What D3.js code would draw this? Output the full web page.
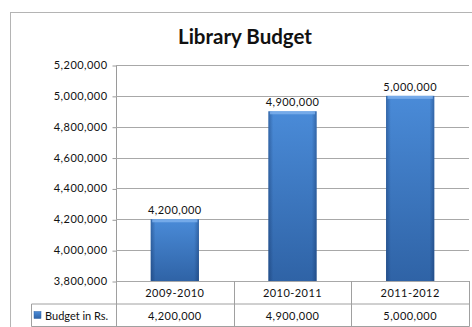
<!DOCTYPE html>
<html>
<head>
<meta charset="utf-8">
<script src="https://cdn.jsdelivr.net/npm/d3@7"></script>
<style>
  body { margin: 0; background: #fff; }
  svg text { font-family: Lato, "Open Sans", sans-serif; fill: #111; }
</style>
</head>
<body>
<div id="chart"></div>
<script>
// data
var categories = ["2009-2010", "2010-2011", "2011-2012"];
var values = [4200000, 4900000, 5000000];
var seriesName = "Budget in Rs.";
var yTicks = [3800000, 4000000, 4200000, 4400000, 4600000, 4800000, 5000000, 5200000];
var title = "Library Budget";

var width = 472,
    height = 327;
var plot = {left: 116, top: 65, right: 469, bottom: 281};
var rowH = 22.5;

var fmt = d3.format(",");

var svg = d3.select("#chart").append("svg")
    .attr("width", width)
    .attr("height", height);

// gradients for the bevelled bars
var defs = svg.append("defs");
var gv = defs.append("linearGradient").attr("id", "barV")
    .attr("x1", 0).attr("y1", 0).attr("x2", 0).attr("y2", 1);
gv.append("stop").attr("offset", "0%").attr("stop-color", "#4a8bd8");
gv.append("stop").attr("offset", "100%").attr("stop-color", "#2f63a6");
var gh = defs.append("linearGradient").attr("id", "barH")
    .attr("x1", 0).attr("y1", 0).attr("x2", 1).attr("y2", 0);
gh.append("stop").attr("offset", "0%").attr("stop-color", "#0b2450").attr("stop-opacity", 0.35);
gh.append("stop").attr("offset", "10%").attr("stop-color", "#0b2450").attr("stop-opacity", 0);
gh.append("stop").attr("offset", "90%").attr("stop-color", "#0b2450").attr("stop-opacity", 0);
gh.append("stop").attr("offset", "100%").attr("stop-color", "#0b2450").attr("stop-opacity", 0.35);

// outer frame
svg.append("rect")
    .attr("x", 10.5).attr("y", 12.5)
    .attr("width", 480).attr("height", 340)
    .attr("fill", "none")
    .attr("stroke", "#b4b4b4");

// title
svg.append("text")
    .attr("x", 245).attr("y", 44)
    .attr("text-anchor", "middle")
    .style("font-size", "20.5px")
    .style("font-weight", "bold")
    .text(title);

// scales
var x = d3.scaleBand()
    .domain(categories)
    .range([plot.left, plot.right])
    .paddingInner(0.59)
    .paddingOuter(0.295);
var col = d3.scaleBand()
    .domain(categories)
    .range([plot.left, plot.right]);
var y = d3.scaleLinear()
    .domain([yTicks[0], yTicks[yTicks.length - 1]])
    .range([plot.bottom, plot.top]);

// y axis with gridlines
var yAxis = d3.axisLeft(y)
    .tickValues(yTicks)
    .tickFormat(fmt)
    .tickSize(4)
    .tickPadding(5);
var ga = svg.append("g")
    .attr("transform", "translate(" + (plot.left + 0.5) + ",0)")
    .call(yAxis);
ga.select(".domain").attr("stroke", "#9a9a9a").attr("d", "M0," + plot.top + "V" + plot.bottom);
ga.selectAll(".tick line").attr("stroke", "#9a9a9a")
    .attr("transform", "translate(0,0.5)");
ga.selectAll(".tick text")
    .style("font-size", "11px")
    .style("letter-spacing", "0.45px")
    .attr("fill", "#111");

svg.append("g").selectAll("line")
    .data(yTicks)
  .enter().append("line")
    .attr("x1", plot.left)
    .attr("x2", plot.right)
    .attr("y1", function(d){ return Math.round(y(d)) + 0.5; })
    .attr("y2", function(d){ return Math.round(y(d)) + 0.5; })
    .attr("stroke", "#a8a8a8");

// bars
var bars = svg.append("g").selectAll("g")
    .data(values)
  .enter().append("g");
bars.append("rect")
    .attr("x", function(d, i){ return x(categories[i]); })
    .attr("y", function(d){ return y(d); })
    .attr("width", x.bandwidth())
    .attr("height", function(d){ return plot.bottom - y(d); })
    .attr("fill", "url(#barV)");
bars.append("rect")
    .attr("x", function(d, i){ return x(categories[i]); })
    .attr("y", function(d){ return y(d); })
    .attr("width", x.bandwidth())
    .attr("height", function(d){ return plot.bottom - y(d); })
    .attr("fill", "url(#barH)");
// light bevel on top
bars.append("rect")
    .attr("x", function(d, i){ return x(categories[i]) + 1.5; })
    .attr("y", function(d){ return y(d); })
    .attr("width", x.bandwidth() - 3)
    .attr("height", 3)
    .attr("fill", "#7fb2ee")
    .attr("opacity", 0.8);

// data labels
bars.append("text")
    .attr("x", function(d, i){ return x(categories[i]) + x.bandwidth() / 2; })
    .attr("y", function(d){ return y(d) - 5; })
    .attr("text-anchor", "middle")
    .style("font-size", "11px")
    .style("letter-spacing", "0.45px")
    .text(fmt);

// data table
var tbl = svg.append("g").attr("stroke", "#a0a0a0").attr("fill", "none");
var r1 = plot.bottom, r2 = plot.bottom + rowH, r3 = plot.bottom + 2 * rowH;
tbl.append("path")
    .attr("d", "M31.5," + (r2 + 0.5) + "H" + (plot.right + 0.5) +
               "M31.5," + (r3 + 0.5) + "H" + (plot.right + 0.5) +
               "M31.5," + (r2 + 0.5) + "V" + (r3 + 0.5) +
               "M" + (plot.left + 0.5) + "," + r1 + "V" + (r3 + 0.5) +
               "M" + (plot.right + 0.5) + "," + r1 + "V" + (r3 + 0.5));
tbl.selectAll("line.sep")
    .data(categories.slice(1))
  .enter().append("line")
    .attr("x1", function(d){ return Math.round(col(d)) + 0.5; })
    .attr("x2", function(d){ return Math.round(col(d)) + 0.5; })
    .attr("y1", r1).attr("y2", r3 + 0.5);

svg.append("g").selectAll("text")
    .data(categories)
  .enter().append("text")
    .attr("x", function(d){ return col(d) + col.bandwidth() / 2; })
    .attr("y", r1 + 16)
    .attr("text-anchor", "middle")
    .style("font-size", "11px")
    .style("letter-spacing", "0.45px")
    .text(function(d){ return d; });

svg.append("g").selectAll("text")
    .data(values)
  .enter().append("text")
    .attr("x", function(d, i){ return col(categories[i]) + col.bandwidth() / 2; })
    .attr("y", r2 + 16)
    .attr("text-anchor", "middle")
    .style("font-size", "11px")
    .style("letter-spacing", "0.45px")
    .text(fmt);

// legend key
svg.append("rect")
    .attr("x", 34).attr("y", r2 + 8)
    .attr("width", 7).attr("height", 7)
    .attr("fill", "url(#barV)")
    .attr("stroke", "#2f63a6")
    .attr("stroke-width", 0.5);
svg.append("text")
    .attr("x", 45).attr("y", r2 + 16)
    .style("font-size", "11px")
    .text(seriesName);
</script>
</body>
</html>
